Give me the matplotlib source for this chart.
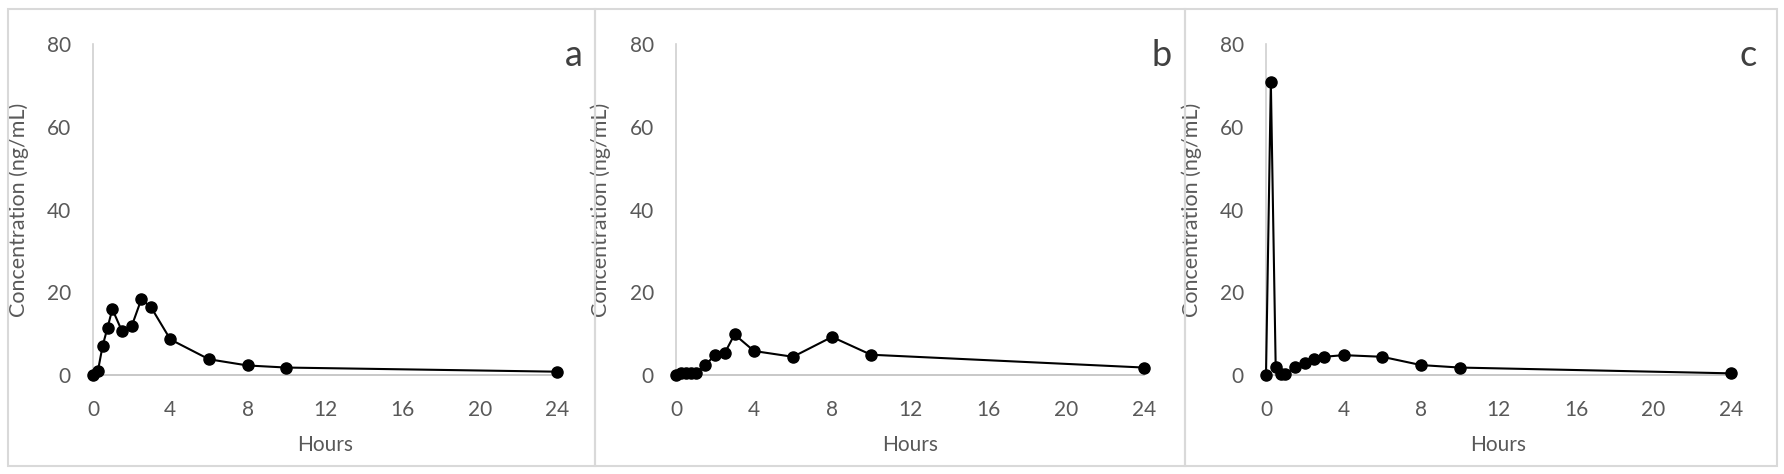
import matplotlib
matplotlib.use('Agg')
import matplotlib.pyplot as plt
from matplotlib.patches import Rectangle

plt.rcParams['font.family'] = ['Lato', 'DejaVu Sans']

# hours and concentrations (ng/mL) for the three panels
hours_a = [0, 0.25, 0.5, 0.75, 1, 1.5, 2, 2.5, 3, 4, 6, 8, 10, 24]
conc_a = [0, 0.9, 7.1, 11.4, 15.9, 10.6, 11.8, 18.3, 16.4, 8.6, 3.8, 2.3, 1.8, 0.8]

hours_b = [0, 0.25, 0.5, 0.75, 1, 1.5, 2, 2.5, 3, 4, 6, 8, 10, 24]
conc_b = [0, 0.4, 0.5, 0.5, 0.5, 2.3, 4.9, 5.3, 9.8, 5.8, 4.4, 9.2, 4.9, 1.8]

hours_c = [0, 0.25, 0.5, 0.75, 1, 1.5, 2, 2.5, 3, 4, 6, 8, 10, 24]
conc_c = [0, 70.8, 2.0, 0.3, 0.3, 1.9, 2.9, 3.8, 4.4, 4.8, 4.4, 2.4, 1.8, 0.4]

panels = [('a', hours_a, conc_a), ('b', hours_b, conc_b), ('c', hours_c, conc_c)]
xticks = [0, 4, 8, 12, 16, 20, 24]
yticks = [0, 20, 40, 60, 80]

W, H = 1784, 474
fig = plt.figure(figsize=(W / 100, H / 100), dpi=100)

# panel frames (pixels): left, right
frames = [(8, 595), (595, 1185), (1185, 1777)]
for x0, x1 in frames:
    fig.patches.append(Rectangle((x0 / W, 8 / H), (x1 - x0) / W, (465 - 8) / H,
                                 transform=fig.transFigure, fill=False,
                                 edgecolor='#d9d9d9', linewidth=1.5))

# axes placement (pixels): y-axis x position, width
axes_px = [(93, 464), (676, 468), (1266, 465)]
top, bottom = 44, 375
label_col = '#595959'

for (letter, xs, ys), (ax0, aw) in zip(panels, axes_px):
    ax = fig.add_axes([ax0 / W, (H - bottom) / H, aw / W, (bottom - top) / H])
    ax.plot(xs, ys, color='black', linewidth=1.5, marker='o', markersize=8,
            clip_on=False, zorder=3)
    ax.set_xlim(0, 24)
    ax.set_ylim(0, 80)
    ax.set_xticks(xticks)
    ax.set_yticks(yticks)
    for s in ['top', 'right']:
        ax.spines[s].set_visible(False)
    ax.spines['left'].set_color('#d0d0d0')
    ax.spines['bottom'].set_color('#bfbfbf')
    ax.spines['left'].set_linewidth(1.2)
    ax.spines['bottom'].set_linewidth(1.2)
    ax.tick_params(axis='both', length=0, labelsize=15, labelcolor=label_col)
    ax.tick_params(axis='x', pad=18)
    ax.tick_params(axis='y', pad=16)
    ax.set_xlabel('Hours', fontsize=15, color=label_col, labelpad=11)
    ax.set_ylabel('Concentration (ng/mL)', fontsize=15.5, color=label_col)
    ax.yaxis.set_label_coords(-0.138, 0.5)
    ax.text(1.037, 0.965, letter, transform=ax.transAxes, fontsize=26,
            color='#404040', ha='center', va='center')

fig.savefig('out.png', dpi=100)
